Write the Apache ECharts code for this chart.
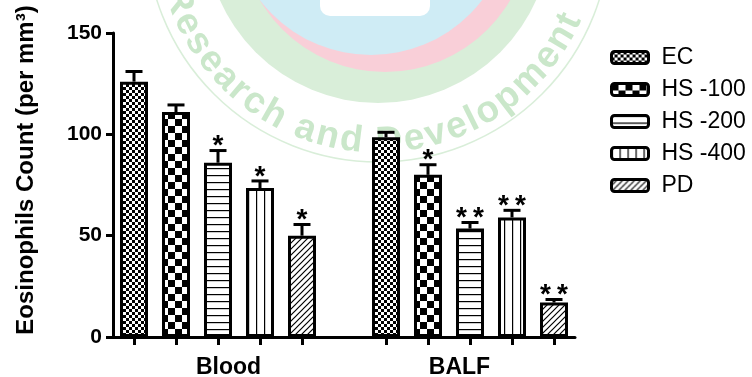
<!DOCTYPE html>
<html>
<head>
<meta charset="utf-8">
<script src="https://cdn.jsdelivr.net/npm/echarts@6/dist/echarts.min.js"></script>
<style>
  html, body { margin: 0; padding: 0; background: #fff; }
  #chart { width: 752px; height: 377px; }
</style>
</head>
<body>
<div id="chart"></div>
<script>
// Groups and treatments
const groups = ['Blood', 'BALF'];
const seriesNames = ['EC', 'HS -100', 'HS -200', 'HS -400', 'PD'];

// Mean eosinophil counts per group (Blood, BALF)
const ecMean    = [126, 98.5];
const hs100Mean = [111, 80];
const hs200Mean = [86, 53.5];
const hs400Mean = [73.5, 59];
const pdMean    = [50, 17];

// Upper error bars (SEM)
const ecErr    = [5, 2.5];
const hs100Err = [3.5, 5];
const hs200Err = [6, 3];
const hs400Err = [3.5, 3.5];
const pdErr    = [5.5, 1.5];

// Significance marks
const ecSig    = ['', ''];
const hs100Sig = ['', '*'];
const hs200Sig = ['*', '**'];
const hs400Sig = ['*', '**'];
const pdSig    = ['*', '**'];

const yTicks = [0, 50, 100, 150];
const yTitle = 'Eosinophils Count (per mm³)';
const watermarkText = 'Research and Development';

const means = [ecMean, hs100Mean, hs200Mean, hs400Mean, pdMean];
const errs  = [ecErr, hs100Err, hs200Err, hs400Err, pdErr];
const sigs  = [ecSig, hs100Sig, hs200Sig, hs400Sig, pdSig];

// one slot per bar, with an empty slot separating the two groups
const perGroup = seriesNames.length + 1;
const slots = [];
groups.forEach((g, gi) => {
  seriesNames.forEach(s => slots.push(g + ' ' + s));
  if (gi < groups.length - 1) slots.push('');
});

// fill patterns
function tile(w, h, draw) {
  const c = document.createElement('canvas');
  c.width = w; c.height = h;
  const ctx = c.getContext('2d');
  ctx.fillStyle = '#fff'; ctx.fillRect(0, 0, w, h);
  ctx.fillStyle = '#000'; ctx.strokeStyle = '#000';
  draw(ctx);
  return { image: c, repeat: 'repeat' };
}
const patterns = [
  tile(6, 6, ctx => { ctx.fillRect(0, 0, 3, 3); ctx.fillRect(3, 3, 3, 3); }),
  tile(14, 14, ctx => { ctx.fillRect(0, 0, 7, 7); ctx.fillRect(7, 7, 7, 7); }),
  tile(8, 7, ctx => { ctx.fillRect(0, 0, 8, 1.2); }),
  tile(8, 8, ctx => { ctx.fillRect(0, 0, 1.2, 8); }),
  tile(6, 6, ctx => {
    ctx.lineWidth = 1.2;
    ctx.beginPath();
    ctx.moveTo(-1, 7); ctx.lineTo(7, -1);
    ctx.moveTo(-1, 1); ctx.lineTo(1, -1);
    ctx.moveTo(5, 7); ctx.lineTo(7, 5);
    ctx.stroke();
  })
];

const barSeries = seriesNames.map((name, s) => ({
  type: 'bar',
  name: name,
  barWidth: 28,
  barGap: '-100%',
  z: 2,
  data: slots.map((_, i) => {
    const g = Math.floor(i / perGroup), k = i % perGroup;
    return k === s ? means[s][g] : '-';
  }),
  itemStyle: { color: patterns[s], borderColor: '#000', borderWidth: 3 },
  emphasis: { disabled: true }
}));

const errData = [];
groups.forEach((g, gi) => {
  seriesNames.forEach((s, si) => {
    errData.push([gi * perGroup + si, means[si][gi], errs[si][gi], sigs[si][gi]]);
  });
});

const starFont = 'bold 28px "Liberation Sans"';
const errSeries = {
  type: 'custom',
  xAxisIndex: 0,
  yAxisIndex: 0,
  z: 3,
  data: errData,
  renderItem(params, api) {
    const row = errData[params.dataIndex];
    const base = api.coord([row[0], row[1]]);
    const top = api.coord([row[0], row[1] + row[2]]);
    const x = base[0];
    const children = [
      { type: 'line', shape: { x1: x, y1: base[1], x2: x, y2: top[1] },
        style: { stroke: '#000', lineWidth: 3 } },
      { type: 'line', shape: { x1: x - 8.5, y1: top[1], x2: x + 8.5, y2: top[1] },
        style: { stroke: '#000', lineWidth: 3 } }
    ];
    const stars = [...row[3]];
    stars.forEach((ch, j) => {
      children.push({ type: 'text', x: x + (j - (stars.length - 1) / 2) * 17, y: top[1] - 4,
        style: { text: ch, font: starFont, fill: '#000', align: 'center', verticalAlign: 'middle' } });
    });
    return { type: 'group', children };
  }
};

// faint circular watermark behind the plot
const wm = { cx: 378, cy: -70 };
const wmFont = 'bold 37px "Liberation Sans"';
const wmR = 212;
const mctx = document.createElement('canvas').getContext('2d');
mctx.font = wmFont;
const chars = [...watermarkText];
const adv = chars.map(ch => mctx.measureText(ch).width + 1.5);
const total = adv.reduce((a, b) => a + b, 0);
const midAngle = 94 * Math.PI / 180;
let run = -total / 2;
const wmChars = [];
chars.forEach((ch, i) => {
  const c = run + adv[i] / 2;
  run += adv[i];
  const th = midAngle - c / wmR;
  if (ch === ' ') return;
  wmChars.push({
    type: 'text', silent: true,
    x: wm.cx + wmR * Math.cos(th), y: wm.cy + wmR * Math.sin(th),
    rotation: Math.PI / 2 - th,
    style: { text: ch, font: wmFont, fill: '#cae7ca', align: 'center', verticalAlign: 'middle' }
  });
});

const graphics = [
  { type: 'circle', silent: true, shape: { cx: wm.cx, cy: wm.cy, r: 232 },
    style: { fill: 'none', stroke: '#d9eed9', lineWidth: 1.5 } },
  { type: 'circle', silent: true, shape: { cx: wm.cx, cy: wm.cy, r: 173 },
    style: { fill: '#d9eed9' } },
  { type: 'circle', silent: true, shape: { cx: 385, cy: -73, r: 145 },
    style: { fill: '#f9cfd8' } },
  { type: 'circle', silent: true, shape: { cx: 371, cy: -85, r: 140 },
    style: { fill: '#cfecf5' } },
  { type: 'rect', silent: true, shape: { x: 320, y: -20, width: 110, height: 36, r: 10 },
    style: { fill: '#ffffff' } },
  ...wmChars,
  { type: 'text', silent: true, x: 26, y: 170, rotation: Math.PI / 2,
    style: { text: yTitle, font: 'bold 24px "Liberation Sans"', fill: '#000',
             align: 'center', verticalAlign: 'middle' } }
];

const chart = echarts.init(document.getElementById('chart'), null, { renderer: 'canvas' });
chart.setOption({
  animation: false,
  backgroundColor: '#fff',
  graphic: graphics,
  grid: { left: 113, right: 177, top: 33, bottom: 40, containLabel: false, outerBoundsMode: 'none' },
  legend: {
    orient: 'vertical', left: 605, top: 41,
    itemWidth: 37, itemHeight: 12, itemGap: 9,
    selectedMode: false,
    data: seriesNames,
    itemStyle: { borderColor: '#000', borderWidth: 3 },
    textStyle: { fontSize: 23, color: '#000', fontFamily: 'Liberation Sans', padding: [0, 0, 0, 8] }
  },
  xAxis: [
    {
      type: 'category', data: slots, position: 'bottom',
      axisLine: { show: true, lineStyle: { color: '#000', width: 3 } },
      axisTick: { show: true, alignWithLabel: true, length: 8,
                  lineStyle: { color: '#000', width: 3 },
                  interval: (i) => i % perGroup !== perGroup - 1 },
      axisLabel: { show: false },
      splitLine: { show: false }
    },
    {
      type: 'category', data: groups, position: 'bottom',
      axisLine: { show: false }, axisTick: { show: false }, splitLine: { show: false },
      axisLabel: { fontSize: 23, fontWeight: 'bold', fontFamily: 'Liberation Sans', color: '#000', margin: 19 }
    }
  ],
  yAxis: {
    type: 'value', min: yTicks[0], max: yTicks[yTicks.length - 1], interval: yTicks[1] - yTicks[0],
    axisLine: { show: true, lineStyle: { color: '#000', width: 3 } },
    axisTick: { show: true, length: 7, lineStyle: { color: '#000', width: 3 } },
    axisLabel: { fontSize: 21, fontWeight: 'bold', fontFamily: 'Liberation Sans', color: '#000', margin: 11 },
    splitLine: { show: false }
  },
  series: [...barSeries, errSeries]
});
</script>
</body>
</html>
